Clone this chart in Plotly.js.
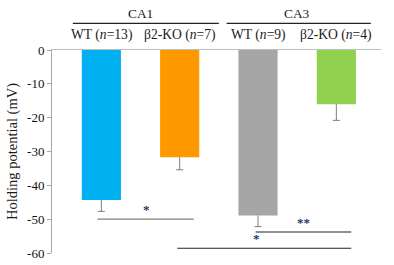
<!DOCTYPE html>
<html><head><meta charset="utf-8">
<script src="https://cdn.plot.ly/plotly-3.0.1.min.js"></script>
<style>html,body{margin:0;padding:0;background:#fff}#c{width:394px;height:265px}</style>
</head><body><div id="c"></div>
<script>
const categories = ['WT (<i>n</i>=13)', 'β2-KO (<i>n</i>=7)', 'WT (<i>n</i>=9)', 'β2-KO (<i>n</i>=4)'];
const groups = ['CA1', 'CA3'];
const values = [-44.3, -31.7, -48.9, -16.0];
const errors = [3.4, 3.7, 3.3, 4.8];
const colors = ['#00B0F0', '#FF9900', '#A6A6A6', '#92D050'];
const yTicks = [0, -10, -20, -30, -40, -50, -60];
const yTickText = ['0', '-10', '-20', '-30', '-40', '-50', '-60'];
// significance comparisons: [from index, to index, y level, label]
const sigFrom = [0, 2, 1];
const sigTo = [1, 3, 3];
const sigLevel = [-50, -53.8, -58.6];
const sigLabel = ['*', '**', '*'];

const xs = categories.map((c, i) => i);
const serif = '"Liberation Serif", "Times New Roman", serif';
const font = {family: serif, size: 13, color: '#1a1a1a'};

const trace = {
  type: 'bar', x: xs, y: values, width: 0.5,
  marker: {color: colors},
  hoverinfo: 'none'
};

// downward-only error bars (stem + bottom cap), built from values/errors
const capHalf = 0.045;
const ex = [], ey = [];
values.forEach((v, i) => {
  const lo = v - errors[i];
  ex.push(i, i, null, i - capHalf, i + capHalf, null);
  ey.push(v, lo, null, lo, lo, null);
});
const errTrace = {type: 'scatter', mode: 'lines', x: ex, y: ey, connectgaps: false,
                  line: {color: '#7f7f7f', width: 1}, hoverinfo: 'none'};

const shapes = [];
const annotations = [];
const lineColors = ['#7f7f7f', '#222', '#222'];
const xStartOff = [-0.05, -0.03, -0.03];
const xEndOff = [0.18, 0.19, 0.19];
sigFrom.forEach((f, k) => {
  const x0 = f + xStartOff[k], x1 = sigTo[k] + xEndOff[k];
  shapes.push({type: 'line', xref: 'x', yref: 'y', x0: x0, x1: x1, y0: sigLevel[k], y1: sigLevel[k],
               line: {color: lineColors[k], width: 1.2}});
});
const starX = [0.57, 2.585, 1.98];
sigLabel.forEach((s, k) => {
  annotations.push({xref: 'x', yref: 'y', x: starX[k], y: sigLevel[k], yanchor: 'bottom',
                    text: '<b>' + s + '</b>', showarrow: false, font: {family: serif, size: 13, color: '#1F3864'}});
});
categories.forEach((c, i) => {
  annotations.push({xref: 'x', yref: 'paper', x: i, y: 1.074, yanchor: 'middle', text: c,
                    showarrow: false, font: {family: serif, size: 13.6, color: '#1a1a1a'}});
});
const groupSpan = [[-0.364, 1.50], [1.60, 3.44]];
groups.forEach((g, j) => {
  const [a, b] = groupSpan[j];
  shapes.push({type: 'line', xref: 'x', yref: 'paper', x0: a, x1: b, y0: 1.1315, y1: 1.1315,
               line: {color: '#222', width: 1.2}});
  annotations.push({xref: 'x', yref: 'paper', x: 2 * j + 0.5, y: 1.18, yanchor: 'middle', text: g,
                    showarrow: false, font: {family: serif, size: 13.4, color: '#1a1a1a'}});
});

const layout = {
  width: 394, height: 265,
  margin: {l: 52, r: 13, t: 50, b: 12},
  paper_bgcolor: '#fff', plot_bgcolor: '#fff',
  showlegend: false,
  font: font,
  xaxis: {range: [-0.63, 3.57], side: 'top', showline: true, linecolor: '#bfbfbf', linewidth: 1,
          showticklabels: false, ticks: '', showgrid: false, zeroline: false, fixedrange: true},
  yaxis: {range: [-60, 0], tickvals: yTicks, ticktext: yTickText, ticks: 'outside', ticklen: 4,
          tickcolor: '#a6a6a6', showline: true, linecolor: '#a6a6a6', linewidth: 1,
          showgrid: false, zeroline: false, tickfont: {family: serif, size: 13, color: '#111'},
          title: {text: 'Holding potential (mV)', font: {family: serif, size: 14.5, color: '#1a1a1a'}, standoff: 5}},
  shapes: shapes, annotations: annotations
};
Plotly.newPlot('c', [trace, errTrace], layout, {displayModeBar: false, staticPlot: true});
</script></body></html>
